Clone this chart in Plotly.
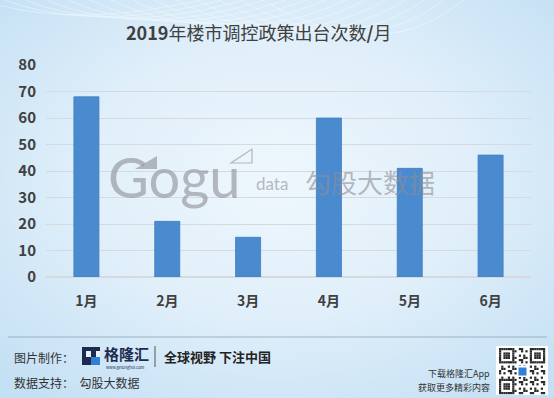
import base64
import plotly.graph_objects as go

months = ["1月", "2月", "3月", "4月", "5月", "6月"]
counts = [68, 21, 15, 60, 41, 46]
y_ticks = [0, 10, 20, 30, 40, 50, 60, 70, 80]

title_text = "<b>2019</b>年楼市调控政策出台次数<b>/</b>月"

W, H = 554, 398
L, R, T, B = 46, 23, 65, 121
PW, PH = W - L - R, H - T - B


def px(x):
    return (x - L) / PW


def py(y):
    return (H - B - y) / PH


# background gradient (svg)
lines = "".join(
    f'<path d="M{-40 + i*22},{-10} Q{60 + i*25},{40 + i*3} {240 + i*18},{-10}" stroke="white" stroke-opacity="0.45" stroke-width="0.8" fill="none"/>'
    for i in range(14)
)
svg = f'''<svg xmlns="http://www.w3.org/2000/svg" width="{W}" height="{H}" viewBox="0 0 {W} {H}" preserveAspectRatio="none">
<defs>
<radialGradient id="g" cx="0.5" cy="0.45" r="0.7">
<stop offset="0" stop-color="#eef7fd"/>
<stop offset="0.5" stop-color="#e0effa"/>
<stop offset="1" stop-color="#c4e0f4"/>
</radialGradient>
</defs>
<rect width="{W}" height="{H}" fill="url(#g)"/>
{lines}
</svg>'''
bg_uri = "data:image/svg+xml;base64," + base64.b64encode(svg.encode()).decode()

fig = go.Figure()
fig.add_trace(go.Bar(
    x=months, y=counts,
    marker=dict(color="#4a8bd0", line=dict(color="#3f7dc0", width=0.8)),
    hoverinfo="x+y",
))

fig.update_layout(
    width=W, height=H,
    margin=dict(l=L, r=R, t=T, b=B),
    paper_bgcolor="#ddeefa",
    plot_bgcolor="rgba(0,0,0,0)",
    bargap=0.69,
    showlegend=False,
    font=dict(family="Noto Sans CJK SC", color="#404040"),
    images=[dict(source=bg_uri, xref="paper", yref="paper",
                 x=px(0), y=py(0), sizex=W / PW, sizey=H / PH,
                 xanchor="left", yanchor="top", sizing="stretch", layer="below")],
)

fig.update_yaxes(
    range=[0, 80], tickvals=y_ticks, showgrid=True, gridcolor="#d6dade", gridwidth=1,
    zeroline=True, zerolinecolor="#d6dade", showline=False, ticks="",
    tickfont=dict(size=15, color="#404040", family="Noto Sans CJK SC", weight="bold"),
    ticklabelstandoff=9,
)
fig.update_xaxes(
    showgrid=False, showline=False, ticks="",
    tickfont=dict(size=14, color="#404040", family="Noto Sans CJK SC", weight="bold"),
    ticklabelstandoff=14,
)

ann = []
ann.append(dict(text=title_text, x=px(258), y=py(32), xref="paper", yref="paper",
                xanchor="center", yanchor="middle", showarrow=False,
                font=dict(size=18, color="#404040", family="Noto Sans CJK SC")))

# watermark
wm_col = "rgba(140,140,150,0.6)"
ann.append(dict(text="Gogu", x=px(106), y=py(176), xref="paper", yref="paper",
                xanchor="left", yanchor="middle", showarrow=False,
                font=dict(size=56, color=wm_col, family="Lato")))
ann.append(dict(text="data", x=px(254), y=py(183), xref="paper", yref="paper",
                xanchor="left", yanchor="middle", showarrow=False,
                font=dict(size=17, color=wm_col, family="Lato")))
ann.append(dict(text="勾股大数据", x=px(303), y=py(181), xref="paper", yref="paper",
                xanchor="left", yanchor="middle", showarrow=False,
                font=dict(size=26, color=wm_col, family="Noto Sans CJK SC")))

# footer texts
ann.append(dict(text="图片制作：", x=px(12), y=py(357), xref="paper", yref="paper",
                xanchor="left", yanchor="middle", showarrow=False,
                font=dict(size=12, color="#333333")))
ann.append(dict(text="数据支持：  勾股大数据", x=px(12), y=py(382), xref="paper", yref="paper",
                xanchor="left", yanchor="middle", showarrow=False,
                font=dict(size=12, color="#333333")))
ann.append(dict(text="格隆汇", x=px(102), y=py(353), xref="paper", yref="paper",
                xanchor="left", yanchor="middle", showarrow=False,
                font=dict(size=15, color="#1d2b4f", weight="bold")))
ann.append(dict(text="www.gelonghui.com", x=px(104), y=py(367), xref="paper", yref="paper",
                xanchor="left", yanchor="middle", showarrow=False,
                font=dict(size=4, color="#1d2b4f")))
ann.append(dict(text="全球视野 下注中国", x=px(162), y=py(356), xref="paper", yref="paper",
                xanchor="left", yanchor="middle", showarrow=False,
                font=dict(size=13, color="#222222", weight="bold")))
ann.append(dict(text="下载格隆汇App", x=px(492), y=py(373), xref="paper", yref="paper",
                xanchor="right", yanchor="middle", showarrow=False,
                font=dict(size=9, color="#333333")))
ann.append(dict(text="获取更多精彩内容", x=px(492), y=py(387), xref="paper", yref="paper",
                xanchor="right", yanchor="middle", showarrow=False,
                font=dict(size=9, color="#333333")))
fig.update_layout(annotations=ann)

shapes = []


def rect(x0, y0, x1, y1, color, line=None):
    shapes.append(dict(type="rect", xref="paper", yref="paper",
                       x0=px(x0), x1=px(x1), y0=py(y0), y1=py(y1),
                       fillcolor=color, line=dict(width=0) if line is None else line,
                       layer="above"))


# watermark triangle flag
shapes.append(dict(type="path", xref="paper", yref="paper",
                   path=f"M {px(231)} {py(163)} L {px(252)} {py(163)} L {px(252)} {py(149)} Z",
                   fillcolor="rgba(0,0,0,0)", line=dict(color=wm_col, width=1.2), layer="above"))
shapes.append(dict(type="path", xref="paper", yref="paper",
                   path=f"M {px(135)} {py(169)} L {px(157)} {py(169)} L {px(157)} {py(156)} Z",
                   fillcolor=wm_col, line=dict(width=0), layer="above"))

# footer separator
shapes.append(dict(type="line", xref="paper", yref="paper",
                   x0=px(8), x1=px(547), y0=py(337), y1=py(337),
                   line=dict(color="#9fb1c2", width=1), layer="above"))
# logo
rect(82, 347, 100, 365, "#1d2b4f")
rect(86, 351, 100, 357, "#e6f1fa")
rect(91, 357, 100, 365, "#2f7fd6")
rect(91, 351, 96, 357, "#1d2b4f")
shapes.append(dict(type="line", xref="paper", yref="paper",
                   x0=px(155), x1=px(155), y0=py(346), y1=py(367),
                   line=dict(color="#555555", width=1), layer="above"))

# QR code
rect(496, 346, 548, 395, "white")
n = 21
qx0, qy0, qs = 499, 348, 2.2
finder = [(0, 0), (0, n - 7), (n - 7, 0)]


def in_finder(i, j):
    for fi, fj in finder:
        if fi <= i < fi + 7 and fj <= j < fj + 7:
            di, dj = i - fi, j - fj
            if di in (0, 6) or dj in (0, 6):
                return True
            if 2 <= di <= 4 and 2 <= dj <= 4:
                return True
            return False
    return None


for i in range(n):
    for j in range(n):
        f = in_finder(i, j)
        if f is None:
            f = ((i * 7 + j * 13 + i * j) % 5) in (0, 2)
        if f:
            rect(qx0 + j * qs, qy0 + i * qs, qx0 + (j + 1) * qs, qy0 + (i + 1) * qs, "#2a2a2a")
rect(517, 366, 528, 377, "white")
rect(518.5, 367.5, 526.5, 375.5, "#2f7fd6")

fig.update_layout(shapes=shapes)

fig.write_html(
    "out.html",
    config={"displayModeBar": False},
    post_script="document.body.style.margin='0';document.body.style.overflow='hidden';",
)
